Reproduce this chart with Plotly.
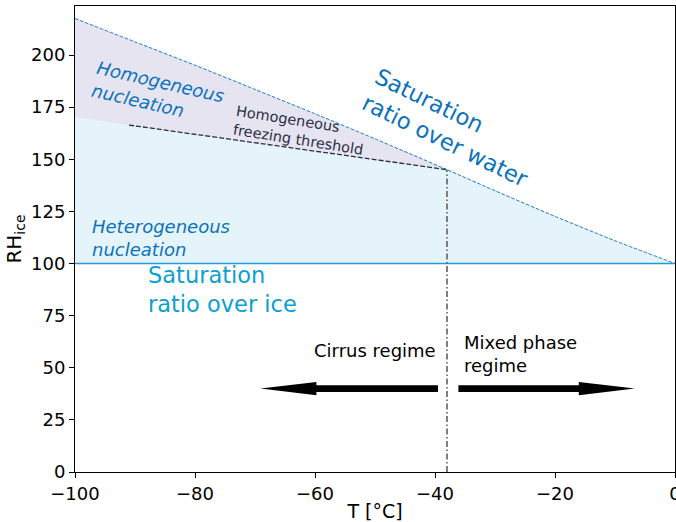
import plotly.graph_objects as go

# ---- data ----
T_water = [-100, -90, -80, -70, -60, -50, -38, -30, -20, -10, 0]
RH_water = [217.5, 206.3, 195.1, 183.5, 171.8, 159.8, 145, 134.9, 122.6, 110.9, 100]

T_thr = [-100, -91, -38]
RH_thr = [170, 166.4, 145]

T_hom = -38
RH_ice_sat = 100

arrow_tail_T = [-39.5, -36.1]
arrow_tip_T = [-69.1, -6.7]
arrow_y = 40

x_ticks = [-100, -80, -60, -40, -20, 0]
y_ticks = [0, 25, 50, 75, 100, 125, 150, 175, 200]

FONT = "DejaVu Sans"
C_FILL_BLUE = "#e5f4fa"
C_FILL_LAV = "#e6e4f0"
C_WATER = "#1f7cc4"
C_TXT_BLUE = "#0a72bd"
C_ICE = "#1f9ad6"
C_ICE_TXT = "#0aa0d0"
C_THR = "#2a2f45"

fig = go.Figure()

# light blue region: between ice saturation and min(threshold, water)
idx_h = T_water.index(T_hom)
bx = [T_thr[0], 0] + T_water[::-1][: len(T_water) - idx_h] + T_thr[::-1]
by = [RH_ice_sat, RH_ice_sat] + RH_water[::-1][: len(T_water) - idx_h] + RH_thr[::-1]
fig.add_trace(go.Scatter(x=bx, y=by, fill="toself", fillcolor=C_FILL_BLUE,
                         line=dict(width=0), mode="lines", hoverinfo="skip"))

# lavender region: between threshold and water saturation (T < -38)
lx = T_water[: idx_h + 1] + T_thr[::-1]
ly = RH_water[: idx_h + 1] + RH_thr[::-1]
fig.add_trace(go.Scatter(x=lx, y=ly, fill="toself", fillcolor=C_FILL_LAV,
                         line=dict(width=0), mode="lines", hoverinfo="skip"))

# ice saturation line
fig.add_trace(go.Scatter(x=[-100, 0], y=[RH_ice_sat, RH_ice_sat], mode="lines",
                         line=dict(color=C_ICE, width=1.3)))
# water saturation curve
fig.add_trace(go.Scatter(x=T_water, y=RH_water, mode="lines",
                         line=dict(color=C_WATER, width=1, dash="3.7px,1.6px", shape="spline", smoothing=0.6)))
# homogeneous freezing threshold
fig.add_trace(go.Scatter(x=T_thr[1:], y=RH_thr[1:], mode="lines",
                         line=dict(color=C_THR, width=1.3, dash="5px,2px")))
# vertical -38 line
fig.add_trace(go.Scatter(x=[T_hom, T_hom], y=[0, RH_thr[-1]], mode="lines",
                         line=dict(color="#555555", width=1.5, dash="6px,2.5px,1.5px,2.5px")))

# arrows as filled polygons
px_per_T = 600 / 100.0
px_per_RH = 466 / 223.5
head_len = 56 / px_per_T
head_half = 6.7 / px_per_RH
shaft_half = 3.3 / px_per_RH
for t0, t1 in zip(arrow_tail_T, arrow_tip_T):
    d = 1 if t1 > t0 else -1
    hb = t1 - d * head_len
    ax = [t0, hb, hb, t1, hb, hb, t0, t0]
    ay = [arrow_y + shaft_half, arrow_y + shaft_half, arrow_y + head_half, arrow_y,
          arrow_y - head_half, arrow_y - shaft_half, arrow_y - shaft_half, arrow_y + shaft_half]
    fig.add_trace(go.Scatter(x=ax, y=ay, fill="toself", fillcolor="black",
                             line=dict(width=0), mode="lines", hoverinfo="skip"))

ann = [
    dict(x=-86.1, y=181.8, text="<i>Homogeneous<br>nucleation</i>", font=dict(size=18, color=C_TXT_BLUE),
         textangle=13, xanchor="center", yanchor="middle", align="left"),
    dict(x=-62.5, y=164, text="Homogeneous<br>freezing threshold", font=dict(size=14.5, color=C_THR),
         textangle=9, xanchor="center", yanchor="middle", align="left"),
    dict(x=-37.2, y=165, text="Saturation<br>ratio over water", font=dict(size=22.5, color=C_TXT_BLUE),
         textangle=26, xanchor="center", yanchor="middle", align="left"),
    dict(x=-97.5, y=112.2, text="<i>Heterogeneous<br>nucleation</i>", font=dict(size=18, color=C_TXT_BLUE),
         xanchor="left", yanchor="middle", align="left"),
    dict(x=-88.1, y=87.3, text="Saturation<br>ratio over ice", font=dict(size=22.5, color=C_ICE_TXT),
         xanchor="left", yanchor="middle", align="left"),
    dict(x=-39.5, y=58.5, text="Cirrus regime", font=dict(size=18, color="black"),
         xanchor="right", yanchor="middle", align="right"),
    dict(x=-35.5, y=56.5, text="Mixed phase<br>regime", font=dict(size=18, color="black"),
         xanchor="left", yanchor="middle", align="left"),
]
for a in ann:
    a.update(xref="x", yref="y", showarrow=False)
    fig.add_annotation(**a)

fig.update_layout(
    width=676, height=522,
    margin=dict(l=75, r=1, t=6, b=50, autoexpand=False),
    paper_bgcolor="white", plot_bgcolor="white",
    showlegend=False,
    font=dict(family=FONT, color="black"),
)
fig.update_xaxes(range=[-100, 0], tickvals=x_ticks, showgrid=False, zeroline=False,
                 showline=True, linecolor="black", linewidth=1, mirror=True,
                 ticks="outside", ticklen=5, tickcolor="black", tickfont=dict(size=18),
                 ticklabeloverflow="allow", automargin=False,
                 title=dict(text="T [°C]", font=dict(size=19), standoff=4))
fig.update_yaxes(range=[0, 223.5], tickvals=y_ticks, showgrid=False, zeroline=False,
                 showline=True, linecolor="black", linewidth=1, mirror=True,
                 ticks="outside", ticklen=5, tickcolor="black", tickfont=dict(size=18),
                 ticklabeloverflow="allow", automargin=False,
                 title=dict(text="RH<sub>ice</sub>", font=dict(size=20), standoff=4))

fig.write_html("out.html")
